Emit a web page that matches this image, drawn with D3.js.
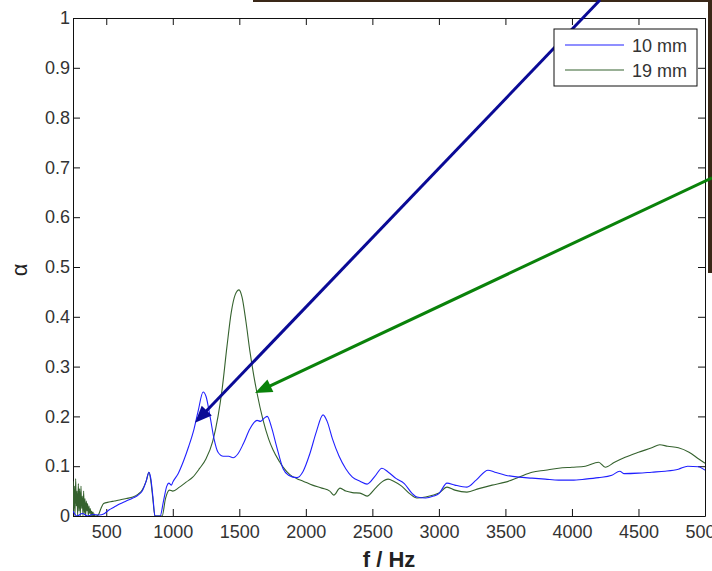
<!DOCTYPE html>
<html>
<head>
<meta charset="utf-8">
<script src="https://cdn.jsdelivr.net/npm/d3@7"></script>
<style>
  html, body { margin: 0; padding: 0; background: #fff; }
  svg { display: block; font-family: "Liberation Sans", Arial, sans-serif; }
</style>
</head>
<body>
<div id="chart"></div>
<script>
// absorption coefficient vs frequency, two panel thicknesses
const freq10 = [250, 280, 320, 360, 400, 450, 480, 520, 560, 600, 650, 700, 740, 770, 800, 821, 835, 850, 866, 905,
  930, 955, 970, 990, 1000, 1040, 1080, 1120, 1160, 1190, 1228, 1250, 1280, 1310, 1340, 1380, 1420, 1453, 1490, 1530,
  1580, 1633, 1660, 1690, 1710, 1740, 1780, 1829, 1870, 1933, 1980, 2030, 2080, 2129, 2160, 2200, 2250, 2300, 2350, 2407,
  2460, 2520, 2572, 2620, 2680, 2740, 2800, 2835, 2900, 2960, 3000, 3061, 3120, 3211, 3280, 3369, 3420, 3500, 3600, 3700,
  3800, 3900, 4000, 4100, 4200, 4300, 4360, 4390, 4500, 4600, 4700, 4800, 4870, 4950, 5000];
const alpha10 = [0.01, 0.0, 0.005, 0.0, 0.003, 0.002, 0.004, 0.012, 0.018, 0.024, 0.03, 0.036, 0.042, 0.05, 0.07, 0.088, 0.075, 0.04, 0.0, 0.0,
  0.03, 0.06, 0.066, 0.062, 0.068, 0.085, 0.11, 0.14, 0.175, 0.21, 0.249, 0.24, 0.2, 0.155, 0.128, 0.12, 0.12, 0.117, 0.125, 0.145,
  0.175, 0.192, 0.19, 0.197, 0.2, 0.18, 0.14, 0.095, 0.082, 0.077, 0.09, 0.125, 0.17, 0.203, 0.19, 0.155, 0.12, 0.095, 0.078, 0.07,
  0.064, 0.08, 0.096, 0.088, 0.075, 0.065, 0.045, 0.038, 0.036, 0.04, 0.045, 0.066, 0.062, 0.058, 0.072, 0.092, 0.088, 0.082, 0.078, 0.076,
  0.074, 0.072, 0.072, 0.074, 0.077, 0.082, 0.09, 0.085, 0.086, 0.088, 0.09, 0.094, 0.1, 0.099, 0.092];

const freq19 = [250, 255, 260, 265, 270, 275, 280, 285, 290, 295, 300, 305, 310, 315, 320, 325, 330, 335, 340, 345,
  350, 355, 360, 365, 370, 375, 380, 385, 390, 395, 400, 405, 410, 415, 420, 440, 460, 480, 520, 560,
  600, 650, 700, 740, 770, 800, 821, 835, 850, 866, 920, 945, 975, 1000, 1050, 1100, 1150, 1200, 1250, 1300,
  1340, 1370, 1407, 1440, 1470, 1498, 1520, 1550, 1580, 1610, 1633, 1678, 1720, 1753, 1800, 1829, 1880, 1933, 1980, 2050,
  2120, 2180, 2210, 2257, 2300, 2350, 2407, 2460, 2520, 2570, 2618, 2660, 2720, 2780, 2835, 2900, 2960, 3000, 3061, 3120,
  3211, 3300, 3400, 3500, 3600, 3700, 3800, 3900, 4000, 4100, 4200, 4250, 4320, 4400, 4500, 4600, 4660, 4720, 4800, 4880,
  4950, 5000];
const alpha19 = [0.07, 0.01, 0.06, 0.0, 0.075, 0.02, 0.05, 0.0, 0.065, 0.01, 0.055, 0.0, 0.06, 0.015, 0.04, 0.0, 0.05, 0.005, 0.035, 0.0,
  0.03, 0.01, 0.025, 0.0, 0.02, 0.005, 0.015, 0.0, 0.01, 0.0, 0.008, 0.0, 0.004, 0.0, 0.0, 0.002, 0.015, 0.025, 0.028, 0.03,
  0.032, 0.035, 0.038, 0.044, 0.052, 0.07, 0.088, 0.07, 0.035, 0.0, 0.0, 0.035, 0.052, 0.05, 0.058, 0.068, 0.078, 0.095, 0.115, 0.15,
  0.2, 0.253, 0.34, 0.41, 0.445, 0.454, 0.44, 0.39, 0.33, 0.28, 0.247, 0.193, 0.155, 0.133, 0.11, 0.098, 0.083, 0.075, 0.07, 0.062,
  0.056, 0.05, 0.042, 0.056, 0.05, 0.047, 0.046, 0.04, 0.055, 0.068, 0.074, 0.07, 0.06, 0.045, 0.036, 0.038, 0.042, 0.046, 0.058, 0.052,
  0.048, 0.055, 0.062, 0.068, 0.078, 0.088, 0.092, 0.096, 0.098, 0.1, 0.108, 0.098, 0.108, 0.118, 0.128, 0.137, 0.143, 0.14, 0.137, 0.128,
  0.115, 0.106];

const seriesNames = ['10 mm', '19 mm'];
const xTicks = [500, 1000, 1500, 2000, 2500, 3000, 3500, 4000, 4500, 5000];
const yTicks = [0, 0.1, 0.2, 0.3, 0.4, 0.5, 0.6, 0.7, 0.8, 0.9, 1];

// annotation arrows, in data units: [f0, a0, f1, a1] (tail -> head)
const arrowBlue = [4211, 1.036, 1167, 0.187];
const arrowGreen = [5053, 0.679, 1618, 0.247];

const W = 712, H = 571;
const margin = { left: 73, top: 18, right: 7, bottom: 55 };
const iw = W - margin.left - margin.right, ih = H - margin.top - margin.bottom;

const COL10 = '#2020ff', COL19 = '#35622e';

const svg = d3.select('#chart').append('svg').attr('width', W).attr('height', H);

// dark photo border peeking in at the top right
svg.append('rect').attr('x', 253).attr('y', 0).attr('width', W - 253).attr('height', 2).attr('fill', '#3a2818');
svg.append('rect').attr('x', 708).attr('y', 0).attr('width', 4).attr('height', 273).attr('fill', '#3a2818');

const x = d3.scaleLinear().domain([250, 5000]).range([0, iw]);
const y = d3.scaleLinear().domain([0, 1]).range([ih, 0]);

const g = svg.append('g').attr('transform', `translate(${margin.left},${margin.top})`);

g.append('defs').append('clipPath').attr('id', 'plot-clip')
  .append('rect').attr('width', iw).attr('height', ih);

// axes (MATLAB box style, ticks inward)
const styleAxis = (sel) => {
  sel.selectAll('path.domain').attr('stroke', '#111');
  sel.selectAll('.tick line').attr('stroke', '#111');
  sel.selectAll('.tick text').attr('fill', '#333').attr('font-size', 18);
};
g.append('g').attr('transform', `translate(0,${ih})`)
  .call(d3.axisBottom(x).tickValues(xTicks).tickSize(-7).tickSizeOuter(0).tickPadding(9).tickFormat(d3.format('d')))
  .call(styleAxis);
g.append('g')
  .call(d3.axisTop(x).tickValues(xTicks).tickSize(-7).tickSizeOuter(0).tickFormat(''))
  .call(styleAxis);
g.append('g')
  .call(d3.axisLeft(y).tickValues(yTicks).tickSize(-7).tickSizeOuter(0).tickPadding(3)
    .tickFormat(d3.format('.1~f')))
  .call(styleAxis);
g.append('g').attr('transform', `translate(${iw},0)`)
  .call(d3.axisRight(y).tickValues(yTicks).tickSize(-7).tickSizeOuter(0).tickFormat(''))
  .call(styleAxis);

// curves
const line = d3.line().curve(d3.curveMonotoneX).x((d) => x(d[0])).y((d) => y(d[1]));
const plot = g.append('g').attr('clip-path', 'url(#plot-clip)');
plot.append('path').datum(d3.zip(freq19, alpha19))
  .attr('fill', 'none').attr('stroke', COL19).attr('stroke-width', 1.1).attr('d', line);
plot.append('path').datum(d3.zip(freq10, alpha10))
  .attr('fill', 'none').attr('stroke', COL10).attr('stroke-width', 1.1).attr('d', line);

// axis labels
g.append('text').attr('x', iw / 2).attr('y', ih + 51).attr('text-anchor', 'middle')
  .attr('font-size', 22).attr('font-weight', 'bold').attr('fill', '#222').text('f / Hz');
g.append('text').attr('transform', `translate(${27 - margin.left},${ih / 2 + 3}) rotate(-90)`)
  .attr('text-anchor', 'middle').attr('font-size', 22).attr('fill', '#222').text('α');

// legend
const leg = svg.append('g').attr('transform', 'translate(554,29)');
leg.append('rect').attr('width', 143).attr('height', 57).attr('fill', '#fff').attr('stroke', '#111');
[COL10, COL19].forEach((c, i) => {
  leg.append('line').attr('x1', 11).attr('x2', 70).attr('y1', 16 + i * 25).attr('y2', 16 + i * 25)
    .attr('stroke', c).attr('stroke-width', 1.1);
  leg.append('text').attr('x', 78).attr('y', 23 + i * 25).attr('font-size', 18).attr('fill', '#333')
    .text(seriesNames[i]);
});

// arrows
function arrow(a, color) {
  const x0 = x(a[0]), y0 = y(a[1]), x1 = x(a[2]), y1 = y(a[3]);
  const dx = x1 - x0, dy = y1 - y0, len = Math.hypot(dx, dy);
  const ux = dx / len, uy = dy / len, hl = 17, hw = 7;
  const bx = x1 - ux * hl, by = y1 - uy * hl;
  g.append('line').attr('x1', x0).attr('y1', y0).attr('x2', bx + ux * 2).attr('y2', by + uy * 2)
    .attr('stroke', color).attr('stroke-width', 3);
  g.append('path')
    .attr('d', `M${x1},${y1}L${bx - uy * hw},${by + ux * hw}L${bx + uy * hw},${by - ux * hw}Z`)
    .attr('fill', color);
}
arrow(arrowBlue, '#0a0a96');
arrow(arrowGreen, '#0a820a');
</script>
</body>
</html>
